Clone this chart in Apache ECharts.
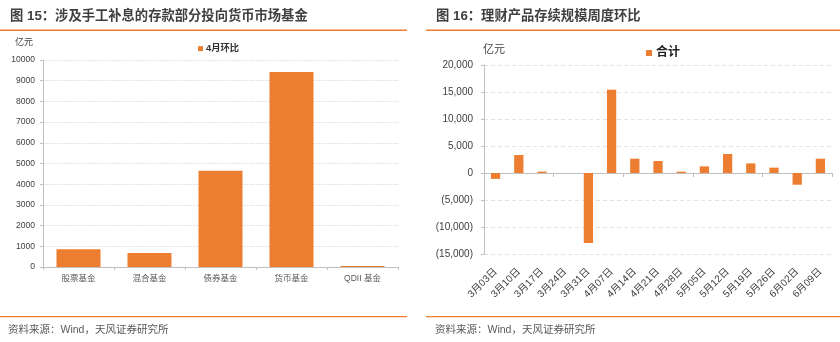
<!DOCTYPE html>
<html><head><meta charset="utf-8">
<script src="https://cdn.jsdelivr.net/npm/echarts@6/dist/echarts.min.js"></script>
<style>html,body{margin:0;padding:0;background:#fff}#c{width:840px;height:342px}</style>
</head><body><div id="c"></div>
<script>
const leftCategories = ['股票基金', '混合基金', '债券基金', '货币基金', 'QDII 基金'];
const leftValues = [855, 677, 4645, 9420, 50];
const leftSeriesName = '4月环比';
const leftTicks = { min: 0, max: 10000, interval: 1000 };

const rightCategories = ['3月03日','3月10日','3月17日','3月24日','3月31日','4月07日','4月14日','4月21日','4月28日','5月05日','5月12日','5月19日','5月26日','6月02日','6月09日'];
const rightValues = [-1100, 3330, 250, 0, -12960, 15430, 2650, 2220, 250, 1230, 3520, 1780, 990, -2170, 2650];
const rightSeriesName = '合计';
const rightTicks = { min: -15000, max: 20000, interval: 5000 };

const ORANGE = '#ED7D31';
const FONT = '"Liberation Sans", Arial, "Noto Sans CJK SC", sans-serif';

function fmtParen(v) {
  const s = Math.abs(v).toString().replace(/\B(?=(\d{3})+(?!\d))/g, ',');
  return v < 0 ? '(' + s + ')' : s;
}

const chart = echarts.init(document.getElementById('c'), null, { renderer: 'canvas' });
chart.setOption({
  animation: false,
  textStyle: { fontFamily: FONT },
  grid: [
    { left: 43, right: 442, top: 60, bottom: 75 },
    { left: 484, right: 8, top: 65, bottom: 88 }
  ],
  legend: [
    { data: [leftSeriesName], left: 198, top: 44, padding: 0, icon: 'rect', itemWidth: 5, itemHeight: 5, itemGap: 4,
      textStyle: { fontSize: 9.3, fontWeight: 'bold', color: '#333', fontFamily: FONT, padding: [0, 0, 0, -2] } },
    { data: [rightSeriesName], left: 646, top: 47, padding: 0, icon: 'rect', itemWidth: 6, itemHeight: 6,
      textStyle: { fontSize: 12, fontWeight: 'bold', color: '#222', fontFamily: FONT, padding: [0, 0, 0, -1] } }
  ],
  xAxis: [
    { gridIndex: 0, type: 'category', data: leftCategories,
      axisLine: { lineStyle: { color: '#bfbfbf', width: 1 } },
      axisTick: { show: true, length: 3, lineStyle: { color: '#bfbfbf' } },
      axisLabel: { fontSize: 8.5, color: '#595959', margin: 7, interval: 0, fontFamily: FONT } },
    { gridIndex: 1, type: 'category', data: rightCategories, position: 'bottom',
      axisLine: { show: false, onZero: false }, axisTick: { show: false },
      axisLabel: { fontSize: 10, color: '#404040', rotate: 45, interval: 0, margin: 16, fontFamily: FONT } },
    { gridIndex: 1, type: 'category', data: rightCategories, position: 'bottom',
      axisLine: { show: true, onZero: true, lineStyle: { color: '#bfbfbf', width: 1 } },
      axisTick: { show: true, length: 4, lineStyle: { color: '#bfbfbf' } },
      axisLabel: { show: false } }
  ],
  yAxis: [
    { gridIndex: 0, type: 'value', min: leftTicks.min, max: leftTicks.max, interval: leftTicks.interval,
      axisLine: { show: true, lineStyle: { color: '#bfbfbf' } },
      axisTick: { show: true, length: 3, lineStyle: { color: '#bfbfbf' } },
      axisLabel: { fontSize: 8.5, color: '#404040', margin: 8, fontFamily: FONT, formatter: (v) => String(v) },
      splitLine: { lineStyle: { color: '#d9d9d9', type: [1.5, 1.5], width: 1 } } },
    { gridIndex: 1, type: 'value', min: rightTicks.min, max: rightTicks.max, interval: rightTicks.interval,
      axisLine: { show: true, lineStyle: { color: '#bfbfbf' } },
      axisTick: { show: true, length: 3, lineStyle: { color: '#bfbfbf' } },
      axisLabel: { fontSize: 10, color: '#404040', margin: 11, fontFamily: FONT, formatter: fmtParen },
      splitLine: { lineStyle: { color: '#e3e3e3', type: [4, 3], width: 1 } } }
  ],
  series: [
    { name: leftSeriesName, type: 'bar', xAxisIndex: 0, yAxisIndex: 0, data: leftValues,
      barCategoryGap: '38%', itemStyle: { color: ORANGE } },
    { name: rightSeriesName, type: 'bar', xAxisIndex: 1, yAxisIndex: 1, data: rightValues,
      barCategoryGap: '60%', itemStyle: { color: ORANGE } }
  ],
  graphic: [
    { type: 'text', left: 10, top: 10, style: { text: '图 15：涉及手工补息的存款部分投向货币市场基金', fontSize: 13.3, fontWeight: 'bold', fill: '#404040', fontFamily: FONT } },
    { type: 'text', left: 436, top: 10, style: { text: '图 16：理财产品存续规模周度环比', fontSize: 13.3, fontWeight: 'bold', fill: '#404040', fontFamily: FONT } },
    { type: 'rect', shape: { x: 0, y: 29.5, width: 407, height: 1.5 }, style: { fill: ORANGE } },
    { type: 'rect', shape: { x: 426, y: 29.5, width: 414, height: 1.5 }, style: { fill: ORANGE } },
    { type: 'rect', shape: { x: 0, y: 316, width: 407, height: 1.2 }, style: { fill: ORANGE } },
    { type: 'rect', shape: { x: 426, y: 316, width: 414, height: 1.2 }, style: { fill: ORANGE } },
    { type: 'text', left: 15, top: 38, style: { text: '亿元', fontSize: 9, fill: '#404040', fontFamily: FONT } },
    { type: 'text', left: 483, top: 44, style: { text: '亿元', fontSize: 11, fill: '#404040', fontFamily: FONT } },
    { type: 'text', left: 8, top: 325, style: { text: '资料来源：Wind，天风证券研究所', fontSize: 10.5, fill: '#595959', fontFamily: FONT } },
    { type: 'text', left: 435, top: 325, style: { text: '资料来源：Wind，天风证券研究所', fontSize: 10.5, fill: '#595959', fontFamily: FONT } }
  ]
});
</script></body></html>
